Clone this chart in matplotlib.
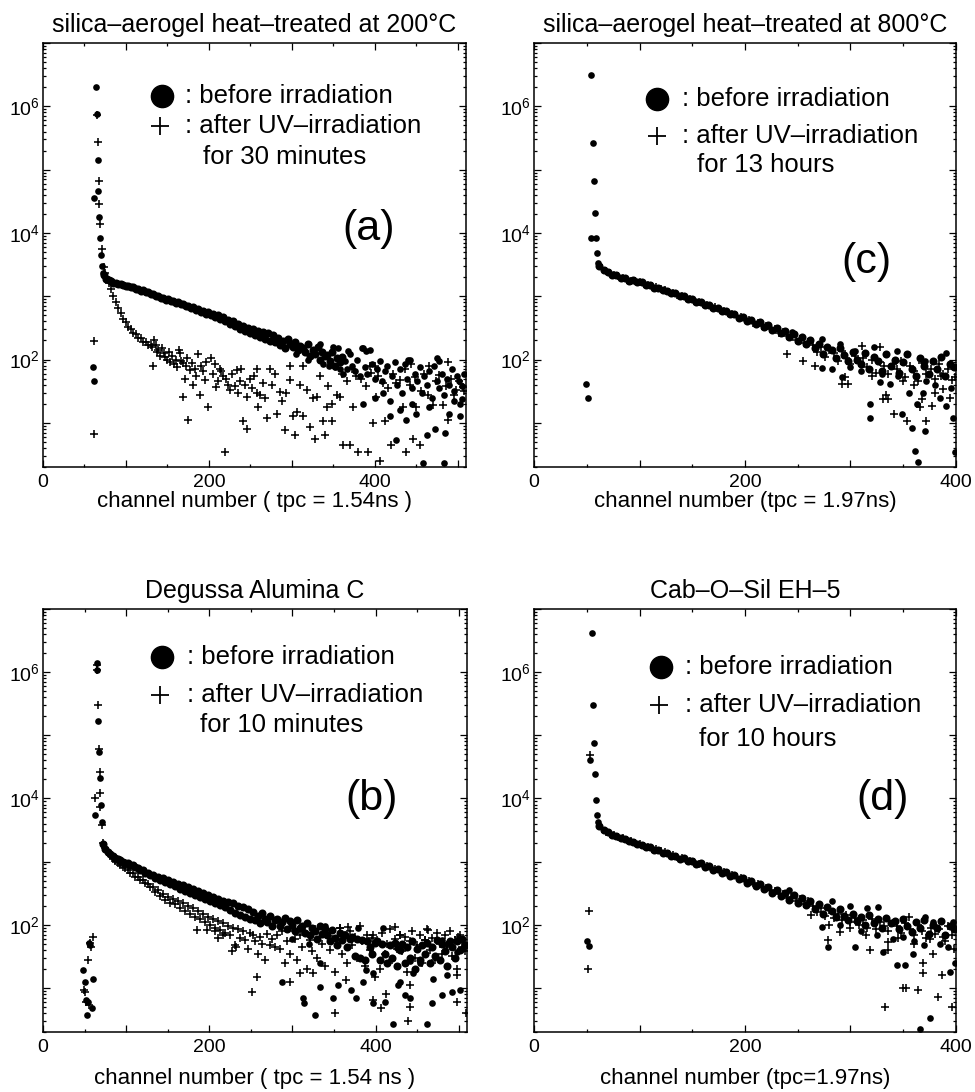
import numpy as np
import matplotlib
matplotlib.use("Agg")
import matplotlib.pyplot as plt
from matplotlib.ticker import MultipleLocator, FixedLocator, LogLocator, NullFormatter, FuncFormatter

plt.rcParams["font.family"] = ["Liberation Sans", "DejaVu Sans"]
plt.rcParams["mathtext.fontset"] = "custom"
plt.rcParams["mathtext.rm"] = "Liberation Sans"
plt.rcParams["mathtext.it"] = "Liberation Sans:italic"
plt.rcParams["mathtext.bf"] = "Liberation Sans:bold"

# ----------------------------
# Text
# ----------------------------
titles = ["silica\u2013aerogel heat\u2013treated at 200\u00b0C",
          "silica\u2013aerogel heat\u2013treated at 800\u00b0C",
          "Degussa Alumina C",
          "Cab\u2013O\u2013Sil EH\u20135"]
xlabels = ["channel number ( tpc = 1.54ns )",
           "channel number (tpc = 1.97ns)",
           "channel number ( tpc = 1.54 ns )",
           "channel number (tpc=1.97ns)"]
durations = ["for 30 minutes", "for 13 hours", "for 10 minutes", "for 10 hours"]
tags = ["(a)", "(c)", "(b)", "(d)"]
xmaxs = [510, 400, 510, 400]

# ----------------------------
# Panel (a): silica aerogel 200C, counts per channel
# bands are sampled every 3 channels from the given start channel
# ----------------------------
a_peak_before = [(60, 75), (62, 46), (62, 35000), (64, 2.0e6), (65, 7.6e5), (66, 1.4e5),
                 (66.5, 46000), (67.5, 18000), (69, 8300), (70, 4400), (71, 3000), (72, 2300)]
a_before_band_start = 73
a_before_band = [2150, 1880, 1790, 1720, 1640, 1630, 1560, 1560, 1500, 1470,
                 1450, 1390, 1400, 1320, 1310, 1230, 1240, 1160, 1150, 1090,
                 1080, 1010, 1010, 950, 950, 880, 900, 840, 840, 790,
                 800, 740, 750, 700, 710, 650, 665, 610, 625, 570,
                 590, 530, 560, 500, 520, 470, 500, 440, 465, 400,
                 425, 365, 400, 335, 365, 305, 340, 280, 320, 260,
                 300, 240, 285, 225, 270, 210, 258, 196, 244, 186,
                 215, 170, 195, 150, 210, 175, 160, 190, 140, 165,
                 150, 130, 175, 112, 140, 120, 155, 100, 130, 115,
                 118, 95, 130, 80, 105, 90, 110]
a_before_tail_start = 364
a_before_tail = [95, 70, 120, 80, 65, 100, 55, 150, 75, 60,
                 140, 85, 50, 70, 95, 45, 65, 80, 13, 55,
                 90, 40, 70, 30, 85, 50, 100, 35, 60, 45,
                 75, 30, 55, 40, 65, 25, 80, 45, 35, 60,
                 28, 50, 40, 70, 32, 55, 45, 38, 60]
a_before_extra = [(305, 120), (320, 100), (334, 175), (338, 85), (345, 80), (350, 160), (352, 75),
                  (356, 150), (358, 70), (362, 60), (368, 135), (386, 150), (390, 135), (386, 20),
                  (400, 25), (410, 30), (418, 22), (426, 5.4), (430, 16), (438, 11), (440, 98),
                  (445, 20), (450, 14), (458, 2.3), (463, 6.5), (465, 18), (473, 8.1), (475, 104),
                  (478, 95), (484, 2.3), (485, 7), (490, 14), (495, 22), (503, 13), (503, 20), (505, 24)]
a_peak_after = [(61, 195), (62, 6.6), (65, 7.2e5), (66, 2.7e5), (67, 6.7e4), (68, 2.9e4),
                (69, 1.4e4), (71, 5600), (73, 2900), (75, 2300)]
a_after_band_start = 76
a_after_band = [2000, 1600, 1280, 990, 800, 640, 540, 430, 385, 330,
                305, 265, 250, 222, 215, 190, 190, 170, 172]
a_after_scatter = [
    (131, 160), (133, 78), (134, 200), (136, 170), (137, 130), (139, 140), (141, 115), (143, 150),
    (146, 125), (147, 110), (149, 100), (152, 130), (153, 93), (155, 115), (158, 85), (160, 100),
    (162, 75), (164, 140), (165, 126), (167, 95), (169, 87), (169, 26), (171, 50), (172, 80),
    (174, 105), (175, 11), (177, 68), (180, 88), (181, 40), (183, 70), (185, 55), (187, 123),
    (189, 28), (190, 80), (193, 65), (195, 48), (197, 90), (199, 18), (203, 105), (205, 60),
    (208, 85), (209, 37), (211, 45), (213, 72), (215, 65), (217, 54), (219.5, 3.5), (221, 50),
    (223, 40), (225, 33), (228, 58), (231, 38), (233.5, 68), (235, 30), (237.5, 45), (239, 70),
    (241.6, 10.5), (243, 40), (245.6, 26), (245.6, 8.1), (249.6, 50), (252, 35), (255, 55),
    (257.6, 72), (257.6, 30), (259.6, 18), (262, 28), (265.7, 42), (268, 25), (269.7, 12),
    (273.7, 72), (276, 40), (279.7, 60), (281.8, 14), (285.8, 31), (288, 22), (291.8, 7.8),
    (293, 30), (297.8, 78), (297.8, 48), (301.9, 12.6), (303.9, 6.5), (306, 15), (310, 40),
    (313.9, 78), (313.9, 13), (317.9, 33), (321.9, 8.7), (325, 25), (328, 5.6), (330, 26),
    (334, 54), (338, 10.5), (340, 6.5), (342, 18), (344, 38), (348, 20), (348, 10.5), (354, 28),
    (358, 26), (360, 60), (362, 4.5), (366, 45), (370, 4.5), (372, 70), (374, 18), (378, 54),
    (380, 3.5), (384, 50), (390, 38), (392, 3.5), (394, 78), (396, 62), (398, 9.8), (400, 80),
    (402, 26), (404, 55), (406, 2.5), (410, 42), (412, 10.5), (416, 35), (420, 4.5), (422, 60),
    (426, 42), (430, 48), (434, 18), (436, 70), (438, 3.5), (442, 40), (444, 85), (446, 5.6),
    (448, 52), (450, 18), (454, 4.5), (456, 32), (460, 60), (464, 28), (466, 78), (470, 19),
    (474, 45), (478, 56), (482, 19), (486, 38), (488, 11), (488, 90), (492, 50), (496, 28),
    (498, 33), (502, 45), (506, 37), (508, 32)]

# ----------------------------
# Panel (b): Degussa Alumina C
# ----------------------------
b_peak_before = [(48.5, 19), (50.5, 12.6), (51.7, 6.4), (52.5, 3.7), (54.5, 6), (55.7, 51),
                 (57, 48), (58.5, 4.8), (59.7, 13.7), (62.5, 5500), (65, 1.4e6), (65, 1.1e6),
                 (66, 1.7e5), (67, 5.5e4), (68, 2.1e4), (69.5, 8000), (70.5, 4200)]
b_before_band_start = 72
b_before_band = [1900, 1600, 1420, 1300, 1230, 1160, 1100, 1050, 1000, 960,
                 940, 880, 870, 810, 800, 740, 730, 670, 670, 620,
                 620, 560, 580, 520, 550, 480, 510, 440, 470, 410,
                 450, 370, 420, 340, 390, 320, 370, 295, 340, 275,
                 320, 255, 300, 240, 280, 220, 260, 205, 240, 190,
                 230, 170, 220, 155, 200, 145, 190, 135, 175, 125,
                 160, 120, 140, 105, 155, 125, 110, 140, 95, 120,
                 125, 95, 110, 130, 85, 115, 100, 80, 118, 90,
                 95, 75, 105, 68, 88, 80, 60, 95, 72, 85,
                 70, 55, 82, 62, 48, 75, 58, 68, 45, 60,
                 65, 32, 60, 30, 58, 28, 55, 45, 35, 52,
                 55, 28, 50, 35, 25, 48, 30, 52, 22, 40,
                 50, 25, 45, 30, 55, 20, 42, 28, 48, 35,
                 52, 25, 45, 32, 58, 28, 50, 38, 22, 55,
                 45, 30, 55, 40, 60, 48]
b_before_extra = [(287, 12.5), (333, 25), (313, 6.9), (314, 5.8), (327, 3.7), (333, 10.5), (349, 6.9),
                  (355, 11), (371, 9.4), (377, 6.9), (397, 5.8), (411, 6), (421.5, 2.7), (427.5, 11),
                  (435.5, 7.8), (441.5, 6.9), (461.5, 2.7), (467.6, 5.8), (479.6, 7.8), (491.6, 8.7),
                  (501.6, 9.3), (469.6, 14), (453.5, 25), (425.5, 22), (445.5, 17), (397, 17),
                  (389, 19), (385, 12.6), (429.5, 12.6), (441.5, 27), (485.6, 16), (339, 95),
                  (379, 90), (409, 90), (425.5, 43), (479.6, 57), (487.6, 51), (497.7, 37),
                  (505.6, 43), (300, 60), (320, 50)]
b_peak_after = [(49.5, 9.1), (50.5, 8.7), (52, 6), (54.5, 28), (55.7, 5.4), (56.5, 51), (57.5, 45),
                (60.5, 65), (63, 1.0e4), (65, 1.3e6), (65.5, 1.1e6), (66, 3.0e5), (67, 6.0e4),
                (68, 2.6e4), (68.6, 7400), (69, 1.2e4), (70.5, 3800)]
b_after_band_start = 72
b_after_band = [2000, 1650, 1400, 1250, 1120, 1030, 950, 890, 830, 790,
                740, 670, 650, 580, 570, 510, 510, 455, 450, 400,
                400, 330, 350, 285, 305, 250, 280, 225, 255, 210,
                235, 185, 220, 165, 200, 150, 185, 135, 165, 125,
                150, 110, 135, 98, 125, 88, 115, 82, 105, 75,
                95, 70, 90, 48, 85, 62, 80, 58, 42, 75,
                70, 55, 35, 65, 50, 28, 72, 48, 60, 45,
                68, 42, 80, 25, 55, 35, 90, 60, 28, 70,
                45, 75, 20, 58, 38, 85, 30, 65, 50, 22,
                72, 40, 60, 18, 55, 90, 35, 68, 25, 80,
                48, 65, 30, 95, 55, 22, 70, 40, 62, 15,
                58, 20, 75, 35, 50, 85, 28, 60, 42, 70,
                38, 65, 18, 55, 80, 30, 48, 68, 25, 58,
                85, 40, 62, 28, 75, 50, 35, 68, 45, 80,
                32, 58, 20, 70, 45, 38]
b_after_extra = [(251, 8.7), (257, 15), (297, 12.5), (309, 17), (325, 17), (351, 4), (365, 13.5),
                 (397, 6.5), (407, 4.8), (413, 8.1), (439.5, 3), (441.5, 5), (441.5, 11), (497.7, 6),
                 (509, 4), (497.7, 16), (357, 90), (367, 93), (397, 69), (423.5, 93), (429.5, 69),
                 (463.5, 83), (459.6, 57), (499.7, 65), (227, 38), (211, 62), (185, 83), (197, 83),
                 (207, 80), (217, 70), (232, 45)]

# ----------------------------
# Panel (c): silica aerogel 800C, bands sampled every 4 channels
# ----------------------------
c_peak_before = [(48.9, 41), (51.1, 25), (53.6, 8300), (54.3, 3.1e6), (56.2, 2.6e5), (57.1, 6.6e4),
                 (57.7, 2.1e4), (58.4, 8300), (59.6, 4800), (60.9, 3400)]
c_before_band_start = 62
c_before_band = [3000, 2550, 2450, 2200, 2160, 1960, 1940, 1770, 1780, 1650,
                 1670, 1520, 1510, 1370, 1370, 1240, 1230, 1110, 1110, 1000,
                 1000, 900, 905, 805, 810, 720, 730, 650, 660, 580,
                 590, 515, 530, 460, 475, 410, 425, 368, 385, 330,
                 350, 290, 318, 262, 285, 225, 252, 198, 226, 175,
                 200, 150, 175, 120, 160, 140, 105, 150, 118, 95,
                 130, 100, 85, 125, 70, 110, 95, 65, 120, 80,
                 100, 62, 90, 120, 70, 55, 105, 80, 60, 95,
                 70, 110, 55, 85, 75]
c_before_extra = [(291.7, 52), (282, 71), (273, 74), (318.5, 19.5), (318.5, 12), (348.6, 13.7),
                  (358, 8.4), (361, 3.6), (363.7, 2.4), (371, 7.4), (363, 19.5), (397.5, 12),
                  (399, 3.4), (391, 18.6), (369, 30), (328, 44), (337.5, 41), (244.3, 275),
                  (273, 210), (290, 174), (322, 155), (344, 138), (371, 96), (391, 129),
                  (304.3, 138), (355, 30), (380, 40), (385, 25), (395, 35), (372, 45), (330, 60),
                  (345, 55), (300, 75), (310, 65)]
c_after_band_start = 64
c_after_band = [2750, 2500, 2300, 2150, 2080, 1950, 1830, 1760, 1720, 1650,
                1580, 1530, 1430, 1390, 1290, 1260, 1160, 1130, 1050, 1010,
                940, 915, 850, 820, 760, 735, 680, 665, 610, 590,
                545, 530, 480, 475, 430, 420, 380, 375, 340, 335,
                300, 305, 265, 270, 235, 240, 205, 210, 180, 190,
                170, 130, 155, 110, 140, 125, 95, 135, 105, 85,
                115, 88, 105, 75, 98, 62, 90, 78, 58, 85,
                70, 95, 52, 80, 65, 45, 88, 60, 72, 50,
                85, 58, 70, 48]
c_after_extra = [(239.5, 123), (255.4, 96), (266.4, 80), (291.7, 41), (298, 41), (295, 52), (331, 23.5),
                 (336, 23.5), (334, 28), (341, 13.7), (353.3, 10.7), (366, 17.5), (372, 10.7),
                 (377, 18.6), (367.5, 23.5), (310.6, 166), (328, 155), (388, 34), (394.5, 25),
                 (399, 52), (380, 30), (360, 40), (350, 45), (320, 55), (386, 55)]

# ----------------------------
# Panel (d): Cab-O-Sil EH-5
# ----------------------------
d_peak_before = [(50.5, 55), (52, 46), (53.4, 4.0e4), (54.6, 4.1e6), (55.6, 3.0e5), (56.5, 7.6e4),
                 (57.5, 2.4e4), (58.7, 9600), (59.7, 5500), (61, 4200)]
d_before_band_start = 62
d_before_band = [3700, 3150, 2900, 2600, 2540, 2330, 2300, 2110, 2080, 1880,
                 1860, 1700, 1680, 1530, 1520, 1380, 1380, 1240, 1240, 1110,
                 1130, 1010, 1030, 910, 935, 820, 850, 740, 770, 665,
                 690, 595, 620, 525, 555, 465, 495, 410, 445, 365,
                 400, 320, 360, 285, 320, 250, 295, 225, 268, 205,
                 240, 175, 210, 150, 190, 165, 135, 175, 140, 118,
                 150, 115, 135, 100, 145, 108, 125, 90, 130, 105,
                 115, 85, 125, 95, 78, 110, 88, 120, 72, 100,
                 90, 115, 70, 95, 85]
d_before_extra = [(242, 360), (282, 234), (299.6, 200), (315.4, 182), (326.4, 190), (272.7, 93),
                  (279, 45), (304, 45), (331, 37), (344, 23), (352, 23), (359.6, 35), (375.5, 3.3),
                  (366, 2.2), (394.4, 18), (399, 24.6), (370.7, 135), (378.6, 112), (397.5, 112),
                  (310, 80), (325, 70), (340, 60), (360, 55), (385, 50), (392, 45), (350, 65),
                  (370, 48), (290, 100)]
d_peak_after = [(50.8, 20), (52.1, 165), (53.4, 4.8e4)]
d_after_band_start = 64
d_after_band = [3300, 2950, 2780, 2600, 2450, 2360, 2210, 2140, 1980, 1900,
                1780, 1720, 1600, 1560, 1450, 1400, 1310, 1270, 1180, 1140,
                1070, 1030, 970, 930, 880, 840, 800, 760, 720, 685,
                640, 615, 575, 550, 510, 490, 455, 435, 400, 385,
                350, 345, 305, 310, 270, 280, 238, 255, 215, 235,
                200, 160, 185, 140, 170, 130, 150, 120, 145, 110,
                130, 100, 118, 90, 125, 85, 110, 95, 80, 105,
                95, 75, 108, 85, 68, 98, 80, 62, 90, 72,
                85, 65, 95, 70]
d_after_extra = [(279, 58), (318.5, 40), (336, 54), (336, 40), (355, 135), (369, 25), (369, 17),
                 (386.5, 16), (350, 9.8), (353, 9.8), (364.4, 9.1), (383.3, 7.2), (333, 5), (396, 5),
                 (378.6, 35), (263, 141), (290, 78), (300, 90), (315, 70), (345, 62), (360, 50),
                 (375, 60), (390, 55), (398, 42), (280, 100)]


def pairs_xy(pairs):
    ch, v = zip(*pairs)
    return np.array(ch, float), np.array(v, float)


def band_xy(start, step, vals):
    vals = np.array(vals, float)
    return start + step * np.arange(len(vals)), vals


def stack(*parts):
    xs = np.concatenate([p[0] for p in parts])
    ys = np.concatenate([p[1] for p in parts])
    return xs, ys


def log_label(v, pos):
    e = int(round(np.log10(v)))
    if e in (2, 4, 6):
        return r"$\mathregular{10^{%d}}$" % e
    return ""


def x_label(v, pos):
    return "%d" % v if int(round(v)) % 200 == 0 else ""


def draw_panel(ax, i, dots_band, dots_other, plus_band, plus_other, lay):
    # the dense decay band is drawn with slightly fatter dots, the way the
    # scanned figure merges its ~450 channels into one solid stripe
    ax.plot(*dots_band, "o", color="k", ms=5.8, mew=0, ls="none")
    ax.plot(*dots_other, "o", color="k", ms=4.8, mew=0, ls="none")
    ax.plot(*plus_band, "+", color="k", ms=6.0, mew=1.15, ls="none")
    ax.plot(*plus_other, "+", color="k", ms=6.0, mew=1.15, ls="none")

    ax.set_yscale("log")
    ax.set_ylim(2, 1e7)
    ax.set_xlim(0, xmaxs[i])

    ax.yaxis.set_major_locator(FixedLocator([10.0 ** k for k in range(1, 8)]))
    ax.yaxis.set_major_formatter(FuncFormatter(log_label))
    ax.yaxis.set_minor_locator(LogLocator(base=10, subs=np.arange(2, 10), numticks=20))
    ax.yaxis.set_minor_formatter(NullFormatter())
    ax.xaxis.set_major_locator(MultipleLocator(100))
    ax.xaxis.set_major_formatter(FuncFormatter(x_label))
    ax.xaxis.set_minor_locator(MultipleLocator(50))

    ax.tick_params(which="both", direction="in", top=True, right=True, labelsize=14, width=0.9)
    ax.tick_params(which="major", length=5)
    ax.tick_params(which="minor", length=2.5)
    ax.tick_params(axis="x", pad=5)
    ax.tick_params(axis="y", pad=2)
    for s in ax.spines.values():
        s.set_linewidth(1.1)

    ax.set_title(titles[i], fontsize=18, pad=8)
    ax.set_xlabel(xlabels[i], fontsize=16, labelpad=lay["labelpad"])

    # hand-made legend
    cx, cy = lay["circle"]
    ax.plot([cx], [cy], "o", color="k", ms=16, transform=ax.transAxes, clip_on=False)
    qx, qy = lay["plus"]
    ax.plot([qx], [qy], "+", color="k", ms=13, mew=1.3, transform=ax.transAxes, clip_on=False)
    tx = lay["text_x"]
    y1, y2, y3 = lay["rows"]
    ax.text(tx, y1, ": before irradiation", transform=ax.transAxes, fontsize=18.5, va="center")
    ax.text(tx, y2, ": after UV\u2013irradiation", transform=ax.transAxes, fontsize=18.5, va="center")
    ax.text(lay["dur_x"], y3, durations[i], transform=ax.transAxes, fontsize=18.5, va="center")

    gx, gy = lay["tag"]
    ax.text(gx, gy, tags[i], transform=ax.transAxes, fontsize=31, ha="center", va="center")


def main():
    fig = plt.figure(figsize=(9.75, 10.92), dpi=100)

    layouts = [
        dict(rect=[0.0441, 0.5723, 0.4338, 0.3883], circle=(0.281, 0.876), plus=(0.276, 0.804),
             text_x=0.336, rows=(0.876, 0.804, 0.732), dur_x=0.378, tag=(0.769, 0.561), labelpad=0),
        dict(rect=[0.5477, 0.5723, 0.4328, 0.3883], circle=(0.291, 0.869), plus=(0.291, 0.780),
             text_x=0.350, rows=(0.869, 0.780, 0.712), dur_x=0.386, tag=(0.788, 0.483), labelpad=0),
        dict(rect=[0.0441, 0.0549, 0.4349, 0.3874], circle=(0.281, 0.886), plus=(0.277, 0.797),
             text_x=0.340, rows=(0.886, 0.797, 0.725), dur_x=0.371, tag=(0.776, 0.552), labelpad=9),
        dict(rect=[0.5477, 0.0549, 0.4328, 0.3874], circle=(0.301, 0.862), plus=(0.297, 0.773),
             text_x=0.357, rows=(0.862, 0.773, 0.693), dur_x=0.392, tag=(0.826, 0.552), labelpad=9),
    ]

    dots_band = [
        band_xy(a_before_band_start, 3, a_before_band),
        band_xy(c_before_band_start, 4, c_before_band),
        band_xy(b_before_band_start, 3, b_before_band),
        band_xy(d_before_band_start, 4, d_before_band),
    ]
    dots_other = [
        stack(pairs_xy(a_peak_before), band_xy(a_before_tail_start, 3, a_before_tail),
              pairs_xy(a_before_extra)),
        stack(pairs_xy(c_peak_before), pairs_xy(c_before_extra)),
        stack(pairs_xy(b_peak_before), pairs_xy(b_before_extra)),
        stack(pairs_xy(d_peak_before), pairs_xy(d_before_extra)),
    ]
    plus_band = [
        band_xy(a_after_band_start, 3, a_after_band),
        band_xy(c_after_band_start, 4, c_after_band),
        band_xy(b_after_band_start, 3, b_after_band),
        band_xy(d_after_band_start, 4, d_after_band),
    ]
    plus_other = [
        stack(pairs_xy(a_peak_after), pairs_xy(a_after_scatter)),
        pairs_xy(c_after_extra),
        stack(pairs_xy(b_peak_after), pairs_xy(b_after_extra)),
        stack(pairs_xy(d_peak_after), pairs_xy(d_after_extra)),
    ]

    for i, lay in enumerate(layouts):
        ax = fig.add_axes(lay["rect"])
        draw_panel(ax, i, dots_band[i], dots_other[i], plus_band[i], plus_other[i], lay)

    fig.savefig("out.png", dpi=100)


if __name__ == "__main__":
    main()
